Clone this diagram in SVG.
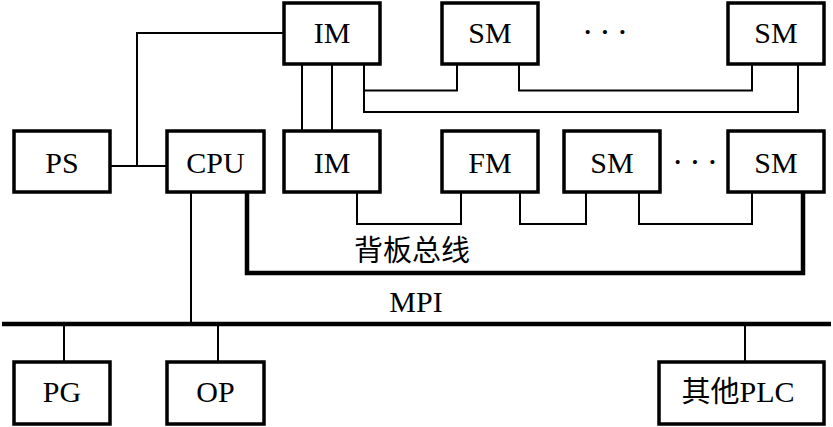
<svg xmlns="http://www.w3.org/2000/svg" width="833" height="427" viewBox="0 0 833 427">
<style>
.box{fill:#fff;stroke:#000;stroke-width:3.5}
.t{font-family:'Liberation Serif','Times New Roman',serif;font-size:30px;fill:#000;text-anchor:middle}
.c{font-family:'Noto Sans CJK SC',sans-serif;font-size:29px;fill:#000;text-anchor:middle}
.w{fill:none;stroke:#000;stroke-width:2}
.bus{fill:none;stroke:#000;stroke-width:4.5}
.d{font-family:'Liberation Serif','Times New Roman',serif;font-size:34px;fill:#000;text-anchor:middle;letter-spacing:6px}
</style>
<rect width="833" height="427" fill="#fff"/>
<g id="connectors">
<polyline class="w" points="284,33 137,33 137,166"/>
<line class="w" x1="110" y1="166" x2="167" y2="166"/>
<line class="w" x1="302" y1="64" x2="302" y2="131"/>
<line class="w" x1="332" y1="64" x2="332" y2="131"/>
<polyline class="w" points="364,64 364,112 798,112 798,64"/>
<polyline class="w" points="364,90.5 457,90.5 457,64"/>
<polyline class="w" points="519,64 519,90.5 752,90.5 752,64"/>
<line class="w" x1="191" y1="192" x2="191" y2="324"/>
<polyline class="bus" points="247,192 247,273 803,273 803,192"/>
<polyline class="w" points="357,192 357,224 461,224 461,192"/>
<polyline class="w" points="520,192 520,224 586,224 586,192"/>
<polyline class="w" points="639,192 639,224 752,224 752,192"/>
<line class="bus" x1="2" y1="324" x2="831" y2="324"/>
<line class="w" x1="64" y1="324" x2="64" y2="362"/>
<line class="w" x1="218" y1="324" x2="218" y2="362"/>
<line class="w" x1="745" y1="324" x2="745" y2="362"/>
<text class="c" x="412" y="261">背板总线</text>
<text class="t" x="416" y="312">MPI</text>
</g>
<g id="im-top"><rect class="box" x="284" y="3" width="96" height="61"/><text class="t" x="332" y="43">IM</text></g>
<g id="sm-top-1"><rect class="box" x="442" y="3" width="96" height="61"/><text class="t" x="490" y="43">SM</text></g>
<text class="d" x="608" y="43">···</text>
<g id="sm-top-n"><rect class="box" x="728" y="3" width="96" height="61"/><text class="t" x="776" y="43">SM</text></g>
<g id="ps"><rect class="box" x="14" y="131" width="96" height="61"/><text class="t" x="62" y="173">PS</text></g>
<g id="cpu"><rect class="box" x="167" y="131" width="97" height="61"/><text class="t" x="215.5" y="173">CPU</text></g>
<g id="im-bottom"><rect class="box" x="284" y="131" width="96" height="61"/><text class="t" x="332" y="173">IM</text></g>
<g id="fm"><rect class="box" x="442" y="131" width="96" height="61"/><text class="t" x="490" y="173">FM</text></g>
<g id="sm-bottom-1"><rect class="box" x="564" y="131" width="96" height="61"/><text class="t" x="612" y="173">SM</text></g>
<text class="d" x="698" y="173">···</text>
<g id="sm-bottom-n"><rect class="box" x="728" y="131" width="96" height="61"/><text class="t" x="776" y="173">SM</text></g>
<g id="pg"><rect class="box" x="14" y="362" width="96" height="62"/><text class="t" x="62" y="402">PG</text></g>
<g id="op"><rect class="box" x="167" y="362" width="97" height="62"/><text class="t" x="215.5" y="402">OP</text></g>
<g id="other-plc"><rect class="box" x="659" y="362" width="165" height="62"/><text class="t" x="738" y="402"><tspan style="font-family:'Noto Sans CJK SC',sans-serif;font-size:29px">其他</tspan>PLC</text></g>
</svg>
